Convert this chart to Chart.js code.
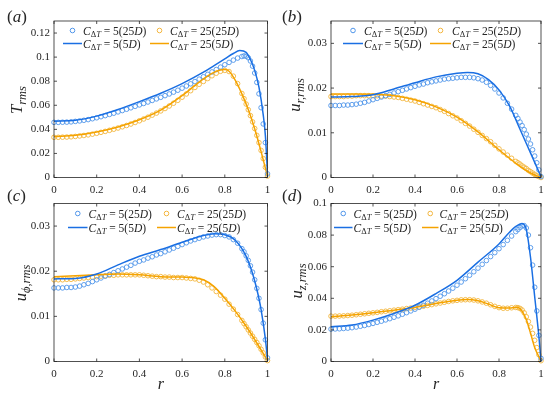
<!DOCTYPE html>
<html><head><meta charset="utf-8">
<script src="https://cdn.jsdelivr.net/npm/chart.js@4.4.1/dist/chart.umd.min.js"></script>
<style>
html,body{margin:0;padding:0;background:#fff;}
#wrap{position:relative;width:550px;height:399px;overflow:hidden;background:#fff;}
canvas{position:absolute;left:0;top:0;}
</style>
</head><body>
<div id="wrap">
<canvas id="ca" width="550" height="399"></canvas>
<canvas id="cb" width="550" height="399"></canvas>
<canvas id="cc" width="550" height="399"></canvas>
<canvas id="cd" width="550" height="399"></canvas>
</div>
<script>
// ---------------- DATA ----------------
const xTicks = [0, 0.2, 0.4, 0.6, 0.8, 1];
const yTicksA = [0, 0.02, 0.04, 0.06, 0.08, 0.1, 0.12];
const yTicksB = [0, 0.01, 0.02, 0.03];
const yTicksC = [0, 0.01, 0.02, 0.03];
const yTicksD = [0, 0.02, 0.04, 0.06, 0.08, 0.1];

// radial positions of the 25D markers
const rC = [0,.02,.04,.06,.08,.1,.12,.14,.16,.18,.2,.22,.24,.26,.28,.3,.32,.34,.36,.38,.4,.42,.44,.46,.48,.5,.52,.54,.56,.58,.6,.62,.64,.66,.68,.7,.72,.74,.76,.78,.8,.82,.84,.86,.88,.89,.9,.91,.92,.93,.94,.95,.96,.97,.98,.99,1];

// (a) T_rms
const aBlue25 = [.0458,.0458,.0459,.0460,.0462,.0466,.0470,.0475,.0481,.0488,.0496,.0505,.0514,.0524,.0534,.0545,.0556,.0567,.0579,.0591,.0603,.0615,.0627,.0640,.0653,.0666,.0680,.0694,.0709,.0725,.0742,.0760,.0778,.0797,.0817,.0837,.0857,.0877,.0897,.0917,.0937,.0956,.0975,.0992,.1005,.1010,.1007,.0995,.0968,.0925,.0868,.0790,.0695,.0580,.0445,.0290,.0030];
const aOrange25 = [.0334,.0334,.0335,.0336,.0338,.0341,.0345,.0349,.0354,.0360,.0367,.0375,.0383,.0392,.0401,.0411,.0421,.0432,.0444,.0457,.0471,.0486,.0501,.0518,.0535,.0553,.0573,.0594,.0617,.0641,.0667,.0694,.0721,.0748,.0774,.0798,.0822,.0845,.0866,.0882,.0890,.0880,.0842,.0780,.0698,.0655,.0610,.0563,.0514,.0462,.0407,.0350,.0290,.0225,.0157,.0085,.0012];
const aBlueLineR = [0,.1,.2,.3,.4,.5,.6,.7,.75,.8,.84,.87,.9,.92,.94,.96,.98,.99,1];
const aBlueLine  = [.0468,.0475,.0510,.0565,.0630,.0700,.0780,.0875,.0930,.0985,.1030,.1054,.1040,.0980,.0890,.0750,.0520,.0350,.0030];
const aOrangeLineR = [0,.1,.2,.3,.4,.5,.6,.65,.7,.74,.78,.8,.82,.85,.88,.91,.94,.97,1];
const aOrangeLine  = [.0339,.0350,.0378,.0420,.0480,.0560,.0680,.0750,.0820,.0865,.0893,.0897,.0883,.0805,.0695,.0565,.0405,.0215,.0008];

// (b) u_r,rms
const bBlue25 = [.0161,.0161,.0161,.0162,.0162,.0163,.0164,.0166,.0168,.0171,.0174,.0177,.0180,.0183,.0186,.0189,.0192,.0195,.0198,.0201,.0204,.0207,.0209,.0212,.0214,.0216,.0218,.0220,.0221,.0222,.0223,.0224,.0224,.0224,.0223,.0221,.0218,.0213,.0206,.0198,.0189,.0178,.0166,.0153,.0139,.0132,.0124,.0116,.0107,.0097,.0086,.0075,.0062,.0048,.0033,.0017,.0002];
const bOrange25 = [.0181,.0181,.0181,.0181,.0182,.0182,.0183,.0183,.0183,.0183,.0183,.0183,.0182,.0182,.0181,.0180,.0179,.0177,.0175,.0173,.0171,.0168,.0165,.0162,.0159,.0156,.0152,.0148,.0143,.0138,.0133,.0127,.0121,.0115,.0108,.0101,.0094,.0087,.0080,.0072,.0064,.0057,.0050,.0043,.0036,.0033,.0030,.0026,.0023,.0020,.0016,.0013,.0010,.0007,.0004,.0002,.0000];
const bBlueLineR = [0,.1,.2,.3,.4,.5,.6,.65,.7,.75,.8,.85,.9,.95,1];
const bBlueLine  = [.0180,.0181,.0185,.0198,.0212,.0225,.0233,.0235,.0232,.0219,.0196,.0160,.0108,.0055,.0002];
const bOrangeLineR = [0,.1,.2,.3,.4,.5,.6,.7,.8,.9,.95,1];
const bOrangeLine  = [.0187,.0187,.0186,.0183,.0174,.0158,.0135,.0102,.0062,.0025,.0010,.0000];

// (c) u_phi,rms
const cBlue25 = [.0163,.0163,.0163,.0164,.0164,.0165,.0167,.0170,.0173,.0177,.0181,.0185,.0189,.0193,.0197,.0201,.0205,.0209,.0213,.0218,.0222,.0225,.0229,.0232,.0236,.0239,.0243,.0247,.0251,.0255,.0259,.0263,.0267,.0270,.0273,.0276,.0278,.0280,.0281,.0281,.0279,.0276,.0270,.0262,.0250,.0243,.0234,.0224,.0212,.0198,.0181,.0162,.0140,.0115,.0085,.0048,.0008];
const cOrange25 = [.0181,.0181,.0181,.0182,.0182,.0183,.0184,.0185,.0186,.0187,.0188,.0189,.0190,.0191,.0191,.0192,.0192,.0192,.0192,.0192,.0192,.0191,.0190,.0189,.0188,.0188,.0187,.0187,.0186,.0186,.0186,.0185,.0184,.0183,.0180,.0176,.0170,.0163,.0155,.0147,.0138,.0127,.0116,.0104,.0091,.0084,.0077,.0070,.0063,.0056,.0049,.0042,.0035,.0027,.0019,.0010,.0002];
const cBlueLineR = [0,.1,.2,.3,.4,.5,.6,.7,.75,.8,.85,.9,.93,.95,.97,.99,1];
const cBlueLine  = [.0183,.0184,.0194,.0214,.0233,.0248,.0264,.0279,.0283,.0281,.0268,.0233,.0195,.0160,.0115,.0050,.0005];
const cOrangeLineR = [0,.1,.2,.3,.4,.5,.6,.65,.7,.75,.8,.85,.9,.95,1];
const cOrangeLine  = [.0188,.0190,.0192,.0194,.0192,.0188,.0187,.0186,.0181,.0166,.0140,.0111,.0078,.0041,.0002];

// (d) u_z,rms
const dBlue25 = [.0205,.0206,.0207,.0209,.0211,.0214,.0218,.0223,.0228,.0234,.0241,.0248,.0255,.0263,.0271,.0280,.0289,.0299,.0309,.0320,.0331,.0343,.0356,.0369,.0383,.0398,.0413,.0429,.0446,.0464,.0483,.0503,.0524,.0546,.0568,.0591,.0615,.0639,.0664,.0689,.0714,.0740,.0767,.0794,.0822,.0835,.0848,.0858,.0860,.0845,.0800,.0720,.0610,.0470,.0320,.0165,.0020];
const dOrange25 = [.0287,.0287,.0288,.0289,.0291,.0293,.0296,.0299,.0302,.0305,.0308,.0311,.0315,.0318,.0321,.0325,.0328,.0331,.0335,.0338,.0342,.0346,.0350,.0355,.0360,.0365,.0370,.0375,.0380,.0384,.0387,.0390,.0391,.0391,.0389,.0384,.0377,.0369,.0359,.0349,.0341,.0337,.0337,.0340,.0342,.0341,.0336,.0326,.0308,.0283,.0253,.0218,.0178,.0134,.0088,.0043,.0005];
const dBlueLineR = [0,.1,.2,.3,.4,.5,.6,.7,.8,.85,.88,.91,.93,.95,.97,.99,1];
const dBlueLine  = [.0220,.0231,.0262,.0304,.0356,.0430,.0514,.0629,.0744,.0818,.0855,.0874,.0835,.0660,.0410,.0157,.0005];
const dOrangeLineR = [0,.1,.2,.3,.4,.5,.6,.65,.7,.75,.8,.85,.88,.9,.93,.95,.97,1];
const dOrangeLine  = [.0283,.0294,.0308,.0325,.0342,.0367,.0388,.0392,.0384,.0363,.0340,.0338,.0343,.0335,.0265,.0180,.0088,.0004];

// legend texts
const legendC = ['5', '25'];
const legendGrid = ['25', '5'];

// ---------------- STYLE ----------------
const FONT = '"Liberation Serif", "DejaVu Serif", serif';
const INK = '#262626';
const BLUE = '#1a6fe3';
const BLUE_M = '#4f95ea';
const ORANGE = '#f5a300';
const ORANGE_M = '#f3b53c';

function pts(xs, ys) { return xs.map((x, i) => ({x: x, y: ys[i]})); }

function drawRuns(ctx, parts, x, y) {
  let cx = x;
  for (const p of parts) {
    ctx.font = (p.it ? 'italic ' : '') + p.s + 'px ' + FONT;
    ctx.fillText(p.t, cx, y + (p.dy || 0));
    cx += ctx.measureText(p.t).width;
  }
  return cx - x;
}
function measureRuns(ctx, parts) {
  let w = 0;
  for (const p of parts) {
    ctx.font = (p.it ? 'italic ' : '') + p.s + 'px ' + FONT;
    w += ctx.measureText(p.t).width;
  }
  return w;
}
function legendParts(c, g) {
  return [
    {t: 'C', s: 11.5, it: true},
    {t: '\u0394', s: 8.5, dy: 2.5},
    {t: 'T', s: 8.5, it: true, dy: 2.5},
    {t: ' = ' + c + '(' + g, s: 11.5},
    {t: 'D', s: 11.5, it: true},
    {t: ')', s: 11.5}
  ];
}

const panels = [
  {id: 'ca', area: {l: 54, t: 21, r: 267.5, b: 177.5}, ymax: 0.13, yTicks: yTicksA,
   b25: aBlue25, o25: aOrange25, bLR: aBlueLineR, bL: aBlueLine, oLR: aOrangeLineR, oL: aOrangeLine,
   tag: 'a', tagX: 7, tagY: 22,
   ylab: [{t: 'T', s: 16.5, it: true}, {t: 'rms', s: 12.5, it: true, dy: 3.5}], ylabX: 18, ylabY: 100,
   leg: {x0: 63, x1: 83, x2: 150, x3: 170, y1: 30.5, y2: 43.5}, xlab: false},
  {id: 'cb', area: {l: 331, t: 21, r: 541, b: 177.5}, ymax: 0.035, yTicks: yTicksB,
   b25: bBlue25, o25: bOrange25, bLR: bBlueLineR, bL: bBlueLine, oLR: bOrangeLineR, oL: bOrangeLine,
   tag: 'b', tagX: 282, tagY: 22,
   ylab: [{t: 'u', s: 16.5, it: true}, {t: 'r,rms', s: 12.5, it: true, dy: 3.5}], ylabX: 296, ylabY: 95,
   leg: {x0: 343, x1: 364, x2: 430, x3: 452, y1: 30.5, y2: 43.5}, xlab: false},
  {id: 'cc', area: {l: 54, t: 203.5, r: 267.5, b: 361.5}, ymax: 0.035, yTicks: yTicksC,
   b25: cBlue25, o25: cOrange25, bLR: cBlueLineR, bL: cBlueLine, oLR: cOrangeLineR, oL: cOrangeLine,
   tag: 'c', tagX: 7, tagY: 201,
   ylab: [{t: 'u', s: 16.5, it: true}, {t: '\u03d5,rms', s: 12.5, it: true, dy: 3.5}], ylabX: 22, ylabY: 283,
   leg: {x0: 68, x1: 88.5, x2: 157, x3: 177, y1: 213.5, y2: 227.5}, xlab: true},
  {id: 'cd', area: {l: 331, t: 203.5, r: 541, b: 361.5}, ymax: 0.1, yTicks: yTicksD,
   b25: dBlue25, o25: dOrange25, bLR: dBlueLineR, bL: dBlueLine, oLR: dOrangeLineR, oL: dOrangeLine,
   tag: 'd', tagX: 282, tagY: 201,
   ylab: [{t: 'u', s: 16.5, it: true}, {t: 'z,rms', s: 12.5, it: true, dy: 3.5}], ylabX: 298, ylabY: 281,
   leg: {x0: 334, x1: 353.5, x2: 422, x3: 439.5, y1: 213.5, y2: 227.5}, xlab: true}
];

const YW = 40, XH = 20;

const decorPlugin = {
  id: 'decor',
  afterDraw(chart, args, opts) {
    const P = opts.panel;
    const ctx = chart.ctx;
    const ca = chart.chartArea;
    const xs = chart.scales.x, ys = chart.scales.y;
    ctx.save();
    // box
    ctx.strokeStyle = INK;
    ctx.lineWidth = 0.8;
    ctx.strokeRect(ca.left, ca.top, ca.right - ca.left, ca.bottom - ca.top);
    // inward ticks
    ctx.beginPath();
    const tl = 3;
    xs.ticks.forEach(t => {
      const px = xs.getPixelForValue(t.value);
      ctx.moveTo(px, ca.bottom); ctx.lineTo(px, ca.bottom - tl);
      ctx.moveTo(px, ca.top); ctx.lineTo(px, ca.top + tl);
    });
    ys.ticks.forEach(t => {
      const py = ys.getPixelForValue(t.value);
      ctx.moveTo(ca.left, py); ctx.lineTo(ca.left + tl, py);
      ctx.moveTo(ca.right, py); ctx.lineTo(ca.right - tl, py);
    });
    ctx.stroke();

    ctx.fillStyle = INK;
    ctx.textBaseline = 'alphabetic';
    ctx.textAlign = 'left';
    // panel tag (a)
    let x = P.tagX;
    x += drawRuns(ctx, [{t: '(', s: 17}], x, P.tagY);
    x += drawRuns(ctx, [{t: P.tag, s: 17, it: true}], x, P.tagY);
    drawRuns(ctx, [{t: ')', s: 17}], x, P.tagY);

    // y label rotated
    ctx.save();
    ctx.translate(P.ylabX, P.ylabY);
    ctx.rotate(-Math.PI / 2);
    const w = measureRuns(ctx, P.ylab);
    drawRuns(ctx, P.ylab, -w / 2, 4);
    ctx.restore();

    // x label
    if (P.xlab) {
      const cx = (ca.left + ca.right) / 2;
      ctx.font = 'italic 16px ' + FONT;
      ctx.textAlign = 'center';
      ctx.fillText('r', cx, 389);
      ctx.textAlign = 'left';
    }

    // legend
    const L = P.leg;
    const drawMarker = (cx, cy, col) => {
      ctx.beginPath();
      ctx.arc(cx, cy, 2.3, 0, Math.PI * 2);
      ctx.strokeStyle = col; ctx.lineWidth = 1; ctx.stroke();
    };
    const drawLine = (x0, x1, cy, col) => {
      ctx.beginPath();
      ctx.moveTo(x0, cy); ctx.lineTo(x1, cy);
      ctx.strokeStyle = col; ctx.lineWidth = 1.5; ctx.stroke();
    };
    drawMarker((L.x0 + L.x1) / 2 - 0.5, L.y1, BLUE_M);
    drawMarker((L.x2 + L.x3) / 2 - 0.5, L.y1, ORANGE_M);
    drawLine(L.x0, L.x1 - 1, L.y2, BLUE);
    drawLine(L.x2, L.x3 - 1, L.y2, ORANGE);
    ctx.fillStyle = INK;
    drawRuns(ctx, legendParts(legendC[0], legendGrid[0]), L.x1, L.y1 + 4);
    drawRuns(ctx, legendParts(legendC[1], legendGrid[0]), L.x3, L.y1 + 4);
    drawRuns(ctx, legendParts(legendC[0], legendGrid[1]), L.x1, L.y2 + 4);
    drawRuns(ctx, legendParts(legendC[1], legendGrid[1]), L.x3, L.y2 + 4);
    ctx.restore();
  }
};

function fmt(v) { return String(Number(v.toFixed(4))); }

panels.forEach(P => {
  const a = P.area;
  const ctx = document.getElementById(P.id).getContext('2d');
  new Chart(ctx, {
    type: 'scatter',
    data: {
      datasets: [
        {data: pts(P.bLR, P.bL), showLine: true, borderColor: BLUE, borderWidth: 1.5, pointRadius: 0, cubicInterpolationMode: 'monotone', fill: false},
        {data: pts(P.oLR, P.oL), showLine: true, borderColor: ORANGE, borderWidth: 1.5, pointRadius: 0, cubicInterpolationMode: 'monotone', fill: false},
        {data: pts(rC, P.b25), showLine: false, pointRadius: 2.3, pointBorderWidth: 0.9, pointBorderColor: BLUE_M, pointBackgroundColor: 'rgba(0,0,0,0)', clip: 4},
        {data: pts(rC, P.o25), showLine: false, pointRadius: 2.3, pointBorderWidth: 0.9, pointBorderColor: ORANGE_M, pointBackgroundColor: 'rgba(0,0,0,0)', clip: 4}
      ]
    },
    options: {
      responsive: false,
      animation: false,
      devicePixelRatio: 1,
      events: [],
      layout: {padding: {left: a.l - YW, top: a.t, right: 550 - a.r, bottom: 399 - a.b - XH}},
      plugins: {legend: {display: false}, tooltip: {enabled: false}, decor: {panel: P}},
      scales: {
        x: {
          type: 'linear', min: 0, max: 1,
          grid: {display: false, drawTicks: false},
          border: {display: false},
          afterBuildTicks: s => { s.ticks = xTicks.map(v => ({value: v})); },
          afterFit: s => { s.height = XH; },
          ticks: {color: INK, font: {family: FONT, size: 11}, padding: 6, maxRotation: 0, callback: v => fmt(v)}
        },
        y: {
          type: 'linear', min: 0, max: P.ymax,
          grid: {display: false, drawTicks: false},
          border: {display: false},
          afterBuildTicks: s => { s.ticks = P.yTicks.map(v => ({value: v})); },
          afterFit: s => { s.width = YW; },
          ticks: {color: INK, font: {family: FONT, size: 11}, padding: 4, callback: v => fmt(v)}
        }
      }
    },
    plugins: [decorPlugin]
  });
});
</script>
</body></html>
